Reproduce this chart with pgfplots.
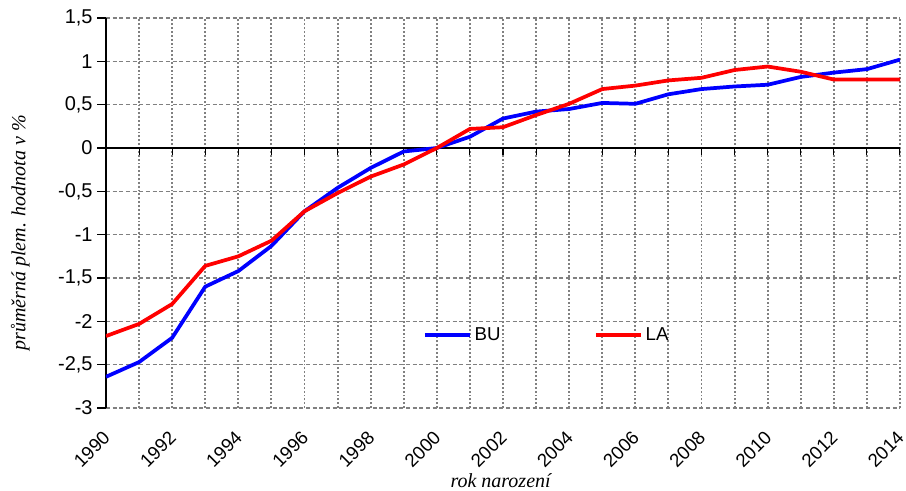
\documentclass[border=0pt]{standalone}
\usepackage{fontspec}
\setmainfont{Liberation Sans}
\newfontfamily\seriffont{Liberation Serif}
\usepackage{pgfplots}
\pgfplotsset{compat=1.18}
\pgfplotstableread{
year BU LA
1990 -2.64 -2.17
1991 -2.47 -2.03
1992 -2.19 -1.80
1993 -1.60 -1.36
1994 -1.42 -1.25
1995 -1.13 -1.07
1996 -0.73 -0.73
1997 -0.46 -0.52
1998 -0.23 -0.33
1999 -0.04 -0.19
2000 0.00 0.00
2001 0.13 0.22
2002 0.34 0.24
2003 0.42 0.38
2004 0.45 0.51
2005 0.52 0.68
2006 0.51 0.72
2007 0.62 0.78
2008 0.68 0.81
2009 0.71 0.90
2010 0.73 0.94
2011 0.82 0.88
2012 0.87 0.79
2013 0.91 0.79
2014 1.02 0.79
}\datatable
\begin{document}
\begin{tikzpicture}
\useasboundingbox (-79.5pt,-61.5pt) rectangle (600pt,306pt);
\begin{axis}[
  at={(0pt,0pt)}, anchor=south west,
  scale only axis, width=595.5pt, height=292.5pt,
  xmin=1990, xmax=2014, ymin=-3, ymax=1.5,
  axis x line*=bottom, axis y line*=left,
  x axis line style={draw=none},
  y axis line style={black, line width=0.8pt, -},
  xtick={1990,1992,...,2014},
  minor xtick={1991,1993,...,2013},
  ytick={-3,-2.5,...,1.5},
  xtick style={draw=none},
  minor tick length=0pt,
  ytick style={black, line width=0.8pt},
  major tick length=6.5pt,
  tick align=outside,
  xmajorgrids, xminorgrids, ymajorgrids,
  major x grid style={gray, line width=1.4pt, dash pattern=on 1.4pt off 1.5pt},
  minor x grid style={gray, line width=1.4pt, dash pattern=on 1.4pt off 1.5pt},
  major y grid style={gray, line width=0.8pt, dash pattern=on 3pt off 2pt},
  /pgf/number format/use comma,
  /pgf/number format/1000 sep={},
  /pgf/number format/assume math mode=true,
  yticklabel style={font=\fontsize{15}{17}\selectfont},
  xticklabel style={font=\fontsize{14}{16}\selectfont, rotate=45, anchor=north east, inner sep=1pt, xshift=-4.5pt},
  xticklabel shift=5pt,
  ylabel={průměrná plem. hodnota v \%},
  ylabel style={font=\seriffont\itshape\fontsize{15}{18}\selectfont, at={(axis description cs:-0.108,0.449)}, anchor=center, rotate=0},
  xlabel={rok narození},
  xlabel style={font=\seriffont\itshape\fontsize{15}{18}\selectfont, at={(axis description cs:0.497,-0.185)}, anchor=center},
  legend style={draw=none, fill=none, at={(axis cs:1999.45,-2.16)}, anchor=west,
    legend columns=2, font=\fontsize{14}{16}\selectfont,
    /tikz/every even column/.append style={column sep=68pt}},
  legend image code/.code={\draw[#1] (0pt,0pt) -- (34pt,0pt);},
]
\draw[black, line width=0.8pt] (axis cs:1990,0) -- (axis cs:2014,0);
\pgfplotsinvokeforeach{1991,...,2014}{
  \draw[black, line width=0.8pt] (axis cs:#1,0) -- ++(0pt,-5pt);
}
\addplot[blue, line width=2.8pt, line join=round] table[x=year, y=BU] {\datatable};
\addlegendentry{BU}
\addplot[red, line width=2.8pt, line join=round] table[x=year, y=LA] {\datatable};
\addlegendentry{LA}
\end{axis}
\end{tikzpicture}
\end{document}
